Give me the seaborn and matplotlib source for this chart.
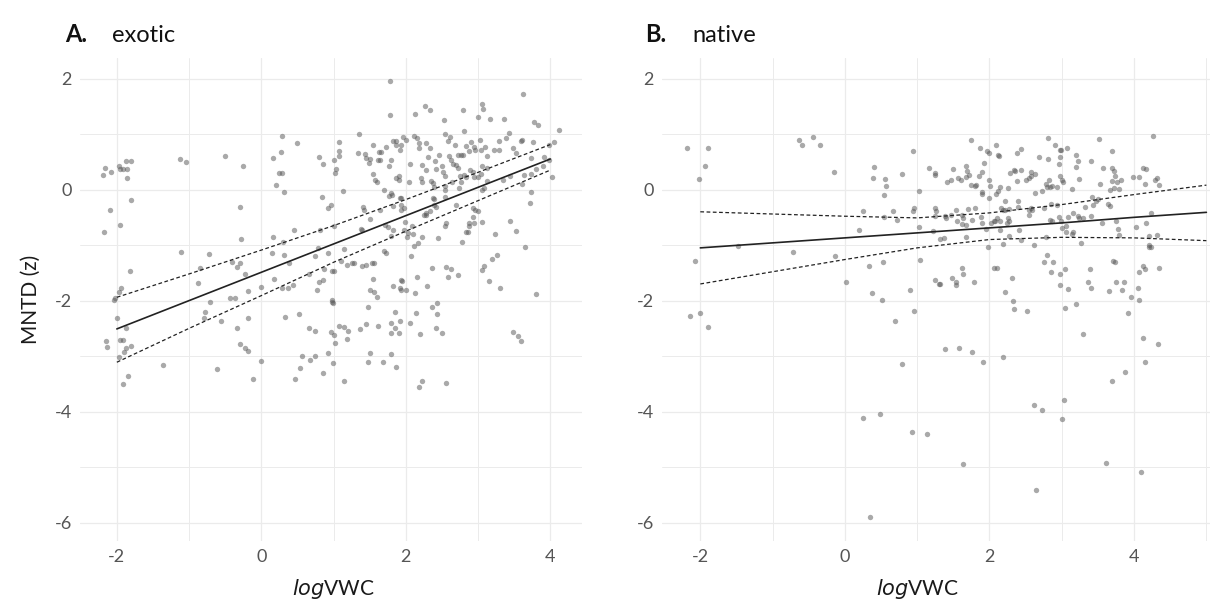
import numpy as np
import pandas as pd
import matplotlib
matplotlib.use("Agg")
import matplotlib.pyplot as plt
import seaborn as sns
from matplotlib.ticker import MultipleLocator

# ---------------- data ----------------
exotic_x = [
    -2.19, -2.17, -2.08, -1.97, -1.95, -1.91, -1.86, -1.87, -1.81, -1.86, -1.81, -2.09, -1.95, -2.18, -1.82, -1.94, -1.97, -2.03, -2.04,
    -1.13, -1.04, -1.11, -0.72, -0.85, -0.88, -0.50, -0.26, -0.30, -0.28, -0.41, -0.34, -0.29, -0.22, -0.43, -0.36, -0.18, -0.01,
    0.16, 0.27, 0.29, 0.49, 0.24, 0.28, 0.20, 0.31, 0.16, 0.30, 0.45, 0.15, 0.32, 0.17, 0.28, 0.37, 0.44, 0.39,
    0.80, 0.86, 0.84, 0.96, 0.74, 0.78, 0.66, 0.87, 0.80, 0.85, 0.77, 0.98,
    -2.0, -1.87, -2.15, -2.14, -1.95, -1.92, -1.87, -1.80, -1.90, -1.97, -1.85, -1.92, -1.36, -0.71, -0.78, -0.80, -0.56, -0.62,
    -0.33, -0.18, -0.29, -0.23, -0.19, -0.01, -0.11, 0.33, 0.52, 0.66, 0.75, 0.57, 0.54, 0.47, 0.68, 0.75, 0.86, 0.92, 0.97,
    1.78, 1.78, 3.62, 2.27, 2.34, 2.13, 2.79, 3.05, 3.07, 3.00, 3.16, 3.36, 2.53, 3.77, 3.83, 4.12, 1.35, 2.81, 2.55,
    1.07, 1.07, 1.08, 1.01, 1.03, 1.02, 0.93, 1.13, 1.34, 1.44, 1.45, 1.54, 1.63, 1.66, 1.72, 1.83, 1.87, 1.96, 2.00, 1.93,
    1.92, 1.86, 2.11, 2.16, 2.18, 2.19, 2.28, 2.34, 2.46, 2.58, 2.61, 2.68, 2.60, 2.63, 2.65, 2.69, 2.72, 2.76, 2.79, 2.84,
    2.87, 2.91, 2.94, 2.96, 3.03, 3.04, 3.10, 3.12, 3.22, 3.29, 3.29, 3.39, 3.43, 3.48, 3.53, 3.59, 3.61, 3.76, 3.74, 3.91,
    4.05, 3.99, 3.99, 4.03, 3.90, 3.81, 3.73, 3.64, 3.61, 3.73, 3.72, 3.44, 3.34, 3.12, 3.12, 3.05, 3.04, 2.95, 3.00, 2.89,
    2.93, 2.84, 2.80, 2.75, 2.72, 2.76, 2.74, 2.64, 2.55, 2.54, 2.50, 2.52, 2.42, 2.40, 2.31, 2.23, 2.28, 2.21, 2.23, 2.35,
    2.38, 2.39, 2.39, 2.38, 2.39, 2.42, 2.06, 2.04, 1.94, 1.93, 1.90, 1.87, 1.91, 1.77, 1.79, 1.77, 1.81, 1.80, 1.65, 1.61,
    1.70, 1.54, 1.60, 1.57, 1.49, 1.50, 1.42, 1.41, 1.50, 1.39, 1.65, 1.71, 1.76, 1.82, 1.79, 1.92, 1.94, 1.82, 1.97, 1.99,
    1.97, 2.03, 2.09, 2.02, 2.10, 2.22, 2.17, 2.11, 2.07, 2.25, 2.28, 2.28, 2.34, 2.55, 2.54, 2.54, 2.56, 2.44, 2.70, 2.78,
    2.83, 2.86, 2.87, 2.88, 2.93, 2.94, 2.96, 3.00, 2.93, 3.05, 3.05, 3.09, 3.23, 3.44, 3.53, 3.65, 3.26, 3.19, 3.09, 3.05,
    3.15, 3.31, 3.81, 2.73, 2.62, 2.56, 2.59, 2.37, 2.29, 2.16, 2.13, 1.94, 1.95, 1.92, 1.93, 2.01, 1.83, 1.55, 1.50, 1.56,
    1.60, 1.70, 1.72, 1.53, 1.56, 1.45, 1.39, 1.28, 1.25, 1.19, 1.14, 1.11, 1.00, 0.98, 0.93, 1.38, 1.01, 0.81,
    0.98, 0.99, 1.48, 1.01, 1.02, 1.08, 1.15, 1.20, 1.19, 0.99, 1.15, 1.37, 1.45, 1.61, 1.50, 1.48, 1.69, 1.79, 1.80, 1.85,
    1.90, 1.85, 1.92, 1.79, 1.87, 2.06, 2.14, 2.20, 2.18, 2.23, 2.36, 2.43, 2.43, 2.42, 2.50, 2.56, 3.48, 3.56, 3.59,
]
exotic_y = [
    0.27, 0.38, 0.31, 0.42, 0.37, 0.37, 0.37, 0.51, 0.52, 0.20, -0.19, -0.37, -0.63, -0.77, -1.47, -1.77, -1.84, -1.96, -1.99,
    0.55, 0.49, -1.13, -1.16, -1.42, -1.69, 0.61, 0.43, -0.31, -0.89, -1.30, -1.39, -1.33, -1.52, -1.96, -1.96, -1.82, -1.76,
    0.56, 0.67, 0.96, 0.84, 0.30, 0.30, 0.09, -0.05, -0.86, -0.95, -0.73, -1.14, -1.17, -1.61, -1.77, -1.77, -1.72, -1.32,
    0.58, 0.46, -0.14, -0.28, -1.19, -1.05, -1.52, -1.43, -1.66, -1.63, -1.81, -1.99,
    -2.32, -2.50, -2.73, -2.84, -2.71, -2.71, -2.85, -2.81, -2.93, -3.02, -3.36, -3.51, -3.16, -2.02, -2.21, -2.31, -2.36, -3.23,
    -2.50, -2.32, -2.79, -2.85, -2.90, -3.09, -3.42, -2.30, -2.25, -2.49, -2.54, -2.99, -3.22, -3.41, -3.07, -2.99, -3.30, -2.94, -2.57,
    1.95, 1.34, 1.72, 1.51, 1.44, 1.36, 1.43, 1.54, 1.45, 1.31, 1.27, 1.28, 1.26, 1.22, 1.17, 1.08, 1.01, 1.05, 1.00,
    0.86, 0.70, 0.60, 0.54, 0.37, 0.30, -0.34, -0.02, 0.66, 0.64, 0.57, 0.80, 0.68, 0.68, 0.77, 0.87, 0.87, 0.94, 0.89, 0.80,
    0.71, 0.80, 0.96, 0.93, 0.84, 0.74, 0.83, 0.75, 0.63, 0.87, 0.94, 0.80, 0.60, 0.53, 0.46, 0.45, 0.62, 0.63, 0.62, 0.78,
    0.69, 0.86, 0.76, 0.72, 0.90, 0.71, 0.77, 0.60, 0.72, 0.72, 0.88, 0.92, 1.02, 0.75, 0.66, 0.87, 0.90, 0.85, 0.57, 0.59,
    0.86, 0.80, 0.54, 0.23, 0.43, 0.37, 0.28, 0.26, 0.10, -0.04, -0.25, 0.24, 0.17, 0.16, 0.39, 0.42, 0.28, 0.22, 0.22, 0.35,
    0.32, 0.22, 0.27, 0.25, 0.39, 0.14, 0.03, 0.13, 0.25, 0.07, 0.42, 0.31, 0.37, 0.51, 0.59, 0.44, 0.36, 0.20, 0.13, 0.16,
    0.11, 0.04, -0.17, -0.16, -0.27, -0.31, 0.46, 0.13, -0.15, -0.36, 0.25, 0.20, 0.18, 0.42, 0.53, -0.11, -0.09, -0.06, 0.54, 0.54,
    -0.01, 0.28, 0.13, 0.17, 0.47, 0.55, -0.36, -0.31, -0.53, -0.72, -0.36, -0.63, -0.67, -0.73, -0.83, -0.16, -0.27, -0.29, -0.34, -0.58,
    -0.73, -0.78, -0.66, -0.86, -0.80, -0.86, -0.96, -1.01, -1.20, -0.46, -0.46, -0.42, -0.39, -0.13, -0.01, -0.66, -0.60, -0.87, -0.28, -0.95,
    -0.77, -0.77, -0.65, -0.60, -0.33, -0.60, -0.36, -0.39, -0.50, -0.58, 0.00, 0.02, -0.80, -0.56, -0.74, -1.04, -1.17, -1.25, -1.38, -1.45,
    -1.64, -1.78, -1.88, -1.53, -1.43, -1.40, -1.58, -1.42, -1.74, -1.57, -1.86, -1.63, -1.65, -1.78, -1.80, -1.80, -1.74, -1.61, -1.80, -1.84,
    -1.93, -1.10, -1.14, -1.33, -1.33, -1.35, -1.37, -1.33, -1.33, -1.36, -1.07, -1.28, -1.46, -1.46, -1.14, -0.71, -0.66, -0.73,
    -2.03, -2.05, -2.12, -2.62, -2.77, -2.45, -2.48, -2.54, -2.70, -3.12, -3.44, -2.52, -2.42, -2.45, -2.94, -3.11, -3.11, -2.41, -2.58, -2.50,
    -2.58, -2.21, -2.36, -2.96, -3.19, -2.41, -2.22, -2.61, -3.56, -3.45, -2.12, -2.05, -2.24, -2.50, -2.59, -3.48, -2.57, -2.63, -2.73,
]

native_x = [
    -2.18, -1.89, -1.94, -2.02, -2.08, -1.48, -0.63, -0.59, -0.44, -0.34, -0.15, -0.72, -0.14, 0.01, 0.25, 0.19, 0.40, 0.39, 0.56, 0.57,
    0.54, 0.54, 0.66, 0.72, 0.79, 0.94, 1.03, 0.96, 0.94, 1.02, 1.04, 0.33, 0.52, 0.37, 0.51, 0.90, 1.17,
    -2.14, -2.01, -1.89, 0.69, 0.96, 0.79, 0.25, 0.49, 0.93, 1.14, 0.35,
    1.24, 1.25, 1.49, 1.67, 1.69, 1.71, 1.68, 1.41, 1.47, 1.56, 1.61, 1.74, 1.75, 1.87, 1.97, 2.00, 2.09, 2.12, 2.13, 1.92,
    1.90, 1.86, 1.82, 1.80, 2.00, 2.01, 1.89, 1.90, 1.99, 2.09, 2.12, 2.15, 2.26, 2.21, 2.29, 2.34, 2.35, 2.44, 2.38, 2.38,
    2.43, 2.50, 2.55, 2.58, 2.63, 2.57, 2.69, 2.81, 2.81, 2.91, 2.97, 3.07, 2.97, 2.96, 2.99, 2.82, 2.78, 2.79, 2.83, 2.86,
    2.94, 2.98, 3.00, 3.02, 3.19, 3.20, 3.23, 3.24, 3.14, 3.40, 3.51, 3.70, 3.57, 3.53, 3.69, 3.72, 3.73, 3.70, 3.76, 3.82,
    3.67, 3.72, 3.79, 3.99, 4.07, 4.13, 4.16, 4.26, 4.29, 4.32, 4.15, 4.34,
    1.25, 1.26, 1.25, 1.40, 1.38, 1.47, 1.54, 1.62, 1.63, 1.55, 1.62, 1.68, 1.70, 1.80, 1.76, 1.88, 1.90, 1.95, 2.02, 2.06,
    2.08, 2.14, 2.15, 2.10, 2.16, 2.18, 2.22, 2.27, 2.24, 2.27, 2.26, 2.39, 2.39, 2.27, 2.41, 2.44, 2.55, 2.55, 2.58, 2.59,
    2.62, 2.63, 2.73, 2.76, 2.78, 2.85, 2.93, 2.84, 2.86, 2.96, 2.99, 3.00, 3.06, 3.06, 3.08, 3.16, 3.15, 3.14, 3.22, 3.24,
    3.30, 3.26, 3.32, 3.40, 3.42, 3.43, 3.48, 3.50, 3.64, 3.67, 3.56, 3.75, 3.78, 3.79, 4.03, 4.16, 4.24, 4.21, 4.31, 4.20,
    4.21, 4.24, 1.22, 1.31, 1.37, 1.67, 1.98, 2.18,
    1.24, 1.30, 1.32, 1.48, 1.53, 1.54, 1.62, 1.64, 1.79, 2.06, 2.11, 2.31, 2.22, 2.32, 2.34, 2.52, 2.80, 2.76, 2.88, 2.85,
    2.97, 3.04, 2.97, 3.08, 3.04, 3.20, 3.39, 3.36, 3.41, 3.71, 3.73, 3.65, 3.75, 3.83, 3.86, 3.92, 3.96, 4.05, 4.07, 4.07,
    4.12, 4.15, 4.35,
    3.29, 4.12, 4.33, 4.15, 3.88, 3.69, 1.39, 1.58, 1.76, 1.91, 2.18, 2.61, 2.73, 3.03, 3.00, 1.63, 2.65, 3.61, 4.09,
]
native_y = [
    0.74, 0.75, 0.43, 0.19, -1.28, -1.01, 0.89, 0.81, 0.95, 0.80, 0.32, -1.13, -1.20, -1.66, -0.38, -0.72, 0.40, 0.21, 0.19, 0.06,
    -0.10, -0.49, -0.38, -0.55, 0.28, 0.70, -0.02, -0.33, -0.39, -0.67, -1.26, -1.37, -1.31, -1.87, -1.98, -1.81, 0.39,
    -2.28, -2.22, -2.47, -2.37, -2.18, -3.14, -4.11, -4.04, -4.37, -4.41, -5.90,
    0.27, 0.30, 0.37, 0.42, 0.34, 0.27, 0.22, 0.13, 0.17, 0.20, 0.17, 0.09, 0.90, 0.75, 0.69, 0.66, 0.81, 0.62, 0.61, 0.47,
    0.31, 0.25, 0.09, 0.07, 0.17, 0.07, -0.05, -0.08, -0.16, -0.08, -0.03, 0.05, 0.02, -0.20, 0.29, 0.35, 0.33, 0.35, 0.15, 0.66,
    0.73, 0.17, 0.21, 0.25, 0.28, 0.32, 0.58, 0.93, 0.55, 0.80, 0.72, 0.74, 0.58, 0.46, 0.72, 0.18, 0.10, 0.05, 0.05, 0.07,
    0.04, 0.25, 0.17, 0.14, 0.41, 0.63, 0.51, 0.19, 0.01, 0.51, 0.91, 0.69, 0.38, 0.10, 0.39, 0.33, 0.25, 0.16, 0.14, 0.17,
    0.00, 0.03, 0.01, 0.22, 0.22, 0.39, 0.37, 0.96, 0.17, 0.20, 0.10, 0.08,
    -0.33, -0.39, -0.47, -0.52, -0.48, -0.46, -0.37, -0.45, -0.51, -0.57, -0.62, -0.63, -0.35, -0.34, -0.54, -0.49, -0.61, -0.71, -0.61, -0.57,
    -0.56, -0.56, -0.73, -0.51, -0.33, -0.37, -0.37, -0.35, -0.60, -0.56, -0.51, -0.21, -0.32, -0.83, -0.73, -0.91, -0.36, -0.46, -0.34, -0.36,
    -0.99, -0.07, -0.02, -0.33, -0.86, -0.26, -0.27, -0.55, -0.57, -0.50, -0.56, -0.69, -0.66, -0.77, -0.50, -0.43, -0.77, -0.80, -0.48, -0.52,
    -0.51, -0.97, -0.31, -0.48, -0.14, -0.28, -0.20, -0.17, -0.26, -0.30, -0.60, -0.57, -0.71, -0.81, -0.67, -0.61, -0.43, -0.83, -0.81, -0.99,
    -1.03, -1.03, -0.74, -0.89, -0.87, -0.86, -1.04, -0.98,
    -1.63, -1.70, -1.70, -1.60, -1.66, -1.72, -1.41, -1.52, -1.67, -1.41, -1.42, -1.60, -1.84, -2.01, -2.15, -2.18, -1.17, -1.30, -1.30, -1.49,
    -1.52, -1.43, -1.71, -1.79, -2.14, -2.07, -1.43, -1.66, -1.78, -1.28, -1.31, -1.82, -1.67, -1.81, -1.67, -2.22, -1.93, -1.77, -1.99, -1.49,
    -1.37, -1.43, -1.42,
    -2.61, -2.68, -2.78, -3.10, -3.28, -3.44, -2.88, -2.85, -2.92, -3.10, -3.02, -3.88, -3.97, -3.79, -4.13, -4.95, -5.41, -4.93, -5.09,
]

# fitted model line and its confidence limits
exotic_fit_x = [-2, -1, 0, 1, 2, 3, 4]
exotic_fit = [-2.51, -2.00, -1.49, -0.98, -0.47, 0.04, 0.55]
exotic_upper = [-1.94, -1.52, -1.09, -0.65, -0.18, 0.31, 0.81]
exotic_lower = [-3.11, -2.50, -1.91, -1.31, -0.75, -0.20, 0.35]

native_fit_x = [-2, -1, 0, 1, 2, 3, 4, 5]
native_fit = [-1.05, -0.96, -0.87, -0.78, -0.69, -0.60, -0.50, -0.41]
native_upper = [-0.40, -0.44, -0.48, -0.51, -0.42, -0.27, -0.09, 0.08]
native_lower = [-1.70, -1.48, -1.26, -1.05, -0.90, -0.86, -0.87, -0.92]

panel_titles = [("A.", "exotic"), ("B.", "native")]
x_ticks = [-2, 0, 2, 4]
y_ticks = [2, 0, -2, -4, -6]

# ---------------- drawing ----------------
sns.set_theme(style="white")
plt.rcParams["font.family"] = ["Lato", "DejaVu Sans"]

W, H = 1220, 609
fig = plt.figure(figsize=(W / 100, H / 100), dpi=100)
top, bottom = 58, 541
axA = fig.add_axes([80 / W, 1 - bottom / H, (582 - 80) / W, (bottom - top) / H])
axB = fig.add_axes([662 / W, 1 - bottom / H, (1210 - 662) / W, (bottom - top) / H])

grid_col = "#ebebeb"
panels = [
    (axA, exotic_x, exotic_y, exotic_fit_x, exotic_fit, exotic_upper, exotic_lower, (-2.51, 4.44)),
    (axB, native_x, native_y, native_fit_x, native_fit, native_upper, native_lower, (-2.53, 5.05)),
]

for i, (ax, xs, ys, fx, fy, fu, fl, xlim) in enumerate(panels):
    df = pd.DataFrame({"x": xs, "y": ys})
    sns.scatterplot(data=df, x="x", y="y", ax=ax, color="#555555", alpha=0.5,
                    s=15, linewidth=0, zorder=3)
    sns.lineplot(x=fx, y=fy, ax=ax, color="#222222", linewidth=1.2, zorder=4)
    sns.lineplot(x=fx, y=fu, ax=ax, color="#222222", linewidth=0.9, zorder=4,
                 linestyle=(0, (3, 2)))
    sns.lineplot(x=fx, y=fl, ax=ax, color="#222222", linewidth=0.9, zorder=4,
                 linestyle=(0, (3, 2)))
    ax.set_xlim(*xlim)
    ax.set_ylim(-6.33, 2.37)
    ax.set_xticks(x_ticks)
    ax.set_yticks(y_ticks)
    ax.set_xticklabels([str(t) for t in x_ticks])
    ax.set_yticklabels([str(t) for t in y_ticks])
    ax.xaxis.set_minor_locator(MultipleLocator(1))
    ax.yaxis.set_minor_locator(MultipleLocator(1))
    ax.grid(which="major", color=grid_col, linewidth=0.9, zorder=0)
    ax.grid(which="minor", color=grid_col, linewidth=0.7, zorder=0)
    ax.set_axisbelow(True)
    for sp in ax.spines.values():
        sp.set_visible(False)
    ax.tick_params(which="both", length=0, pad=6, labelsize=13, labelcolor="#555555")
    ax.set_xlabel(r"$\mathit{log}$VWC", fontsize=15, labelpad=12, color="#1a1a1a")
    # centre x label on data value 1 like the reference
    frac = (1 - xlim[0]) / (xlim[1] - xlim[0])
    ax.xaxis.set_label_coords(frac, -0.075)
    if i == 0:
        ax.set_ylabel("MNTD (z)", fontsize=15, labelpad=10, color="#1a1a1a")
    else:
        ax.set_ylabel("")

# titles
fig.text(65 / W, 1 - 42 / H, panel_titles[0][0], fontsize=17, fontweight="bold", color="#111111")
fig.text(112 / W, 1 - 42 / H, panel_titles[0][1], fontsize=17, color="#111111")
fig.text(645 / W, 1 - 42 / H, panel_titles[1][0], fontsize=17, fontweight="bold", color="#111111")
fig.text(692 / W, 1 - 42 / H, panel_titles[1][1], fontsize=17, color="#111111")

fig.savefig("out.png", dpi=100, facecolor="white")
